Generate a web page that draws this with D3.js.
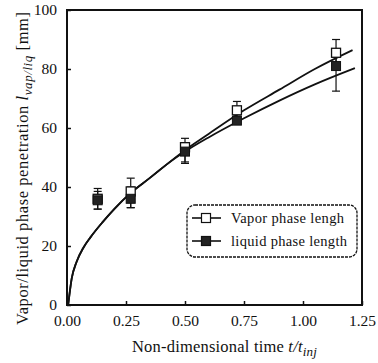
<!DOCTYPE html>
<html><head><meta charset="utf-8">
<script src="https://cdn.jsdelivr.net/npm/d3@7"></script>
<style>body{margin:0;background:#fff}svg{display:block}text{font-family:"Liberation Serif","DejaVu Serif",serif;fill:#111}</style>
</head><body><svg id="c" width="378" height="363"></svg>
<script>
// measured points
const timePts = [0.13, 0.27, 0.50, 0.72, 1.14];
const vaporVals = [36, 38.5, 53.5, 66, 85.5];
const vaporErrLo = [32.5, 33, 48.5, 63, 81];
const vaporErrHi = [39.5, 43, 56.5, 69, 90];
const liquidVals = [35.5, 36, 52, 62.5, 81];
const liquidErrLo = [32.5, 33, 48, 61.5, 72.5];
const liquidErrHi = [38.5, 40, 55, 64, 84];
// fitted curves
const fitT_v = [0.005, 0.02, 0.04, 0.07, 0.10, 0.15, 0.20, 0.27, 0.35, 0.42, 0.50, 0.60, 0.75, 0.90, 1.05, 1.21];
const fitVapor = [0, 9, 14.5, 19.5, 23, 28, 32.5, 38, 43, 47.5, 52.5, 58, 66, 73, 80, 86.4];
const fitT_l = [0.005, 0.02, 0.04, 0.07, 0.10, 0.15, 0.20, 0.27, 0.35, 0.42, 0.50, 0.60, 0.75, 0.90, 1.05, 1.22];
const fitLiquid = [0, 9, 14.5, 19.5, 23, 28, 32.5, 38, 43, 47.5, 52, 56.8, 63.3, 69.3, 74.8, 80.3];
const xTicks = [0, 0.25, 0.5, 0.75, 1.0, 1.25];
const xTickLabels = ["0.00", "0.25", "0.50", "0.75", "1.00", "1.25"];
const yTicks = [0, 20, 40, 60, 80, 100];
const legendLabels = ["Vapor phase lengh", "liquid phase length"];

const svg = d3.select("#c");
const L = 67, R = 362, T = 10, B = 305;
const x = d3.scaleLinear().domain([0, 1.25]).range([L, R]);
const y = d3.scaleLinear().domain([0, 100]).range([B, T]);
const ink = "#111";

// frame
svg.append("rect").attr("x", L).attr("y", T).attr("width", R - L).attr("height", B - T)
  .attr("fill", "none").attr("stroke", ink).attr("stroke-width", 2);

// axes (inward ticks)
const xa = svg.append("g").attr("transform", `translate(0,${B})`)
  .call(d3.axisBottom(x).tickValues(xTicks).tickSize(-4).tickPadding(9)
    .tickFormat((d, i) => xTickLabels[i]));
const ya = svg.append("g").attr("transform", `translate(${L},0)`)
  .call(d3.axisLeft(y).tickValues(yTicks).tickSize(-4).tickPadding(10));
[xa, ya].forEach(g => {
  g.select(".domain").remove();
  g.selectAll("line").attr("stroke", ink).attr("stroke-width", 1.5);
  g.selectAll("text").attr("font-size", 15.5).attr("font-family", "Liberation Serif, serif").attr("fill", ink);
});
xa.selectAll("text").attr("dy", "0.8em");

// curves
const line = d3.line().curve(d3.curveMonotoneX);
svg.append("path").attr("d", line(fitT_v.map((t, i) => [x(t), y(fitVapor[i])])))
  .attr("fill", "none").attr("stroke", ink).attr("stroke-width", 1.8);
svg.append("path").attr("d", line(fitT_l.map((t, i) => [x(t), y(fitLiquid[i])])))
  .attr("fill", "none").attr("stroke", ink).attr("stroke-width", 1.8);

// error bars
function errBars(lo, hi) {
  timePts.forEach((t, i) => {
    const g = svg.append("g").attr("stroke", ink).attr("stroke-width", 1.2);
    g.append("line").attr("x1", x(t)).attr("x2", x(t)).attr("y1", y(lo[i])).attr("y2", y(hi[i]));
    [lo[i], hi[i]].forEach(v => g.append("line").attr("x1", x(t) - 4).attr("x2", x(t) + 4).attr("y1", y(v)).attr("y2", y(v)));
  });
}
errBars(vaporErrLo, vaporErrHi);
errBars(liquidErrLo, liquidErrHi);

// markers
const s = 9;
svg.selectAll(".vm").data(timePts).join("rect")
  .attr("x", (d, i) => x(d) - s / 2).attr("y", (d, i) => y(vaporVals[i]) - s / 2)
  .attr("width", s).attr("height", s).attr("fill", "#fff").attr("stroke", ink).attr("stroke-width", 1.3);
svg.selectAll(".lm").data(timePts).join("rect")
  .attr("x", (d, i) => x(d) - s / 2).attr("y", (d, i) => y(liquidVals[i]) - s / 2)
  .attr("width", s).attr("height", s).attr("fill", "#222").attr("stroke", ink).attr("stroke-width", 1);

// legend
const lg = svg.append("g");
lg.append("rect").attr("x", 187).attr("y", 205).attr("width", 170).attr("height", 52).attr("rx", 8)
  .attr("fill", "#fff").attr("stroke", ink).attr("stroke-width", 1.3).attr("stroke-dasharray", "3,1");
legendLabels.forEach((lab, i) => {
  const yy = 218 + i * 23;
  lg.append("line").attr("x1", 192).attr("x2", 221).attr("y1", yy).attr("y2", yy).attr("stroke", ink).attr("stroke-width", 1.6);
  lg.append("rect").attr("x", 206 - s / 2).attr("y", yy - s / 2).attr("width", s).attr("height", s)
    .attr("fill", i === 0 ? "#fff" : "#222").attr("stroke", ink).attr("stroke-width", 1.2);
  lg.append("text").attr("x", 231).attr("y", yy).attr("dy", "0.33em").attr("font-size", 14.5)
    .attr("textLength", i === 0 ? 113 : 116).attr("lengthAdjust", "spacing").text(lab);
});

// axis titles
const xt = svg.append("text").attr("x", 132).attr("y", 352).attr("font-size", 16.5).attr("letter-spacing", 0.2);
xt.append("tspan").text("Non-dimensional time ");
xt.append("tspan").attr("font-style", "italic").text("t/t");
xt.append("tspan").attr("font-style", "italic").attr("font-size", 13).attr("dy", 4).text("inj");

const yt = svg.append("text").attr("transform", "translate(28,325) rotate(-90)").attr("font-size", 16.5)
  .attr("textLength", 313).attr("lengthAdjust", "spacing");
yt.append("tspan").text("Vapor/liquid  phase penetration ");
yt.append("tspan").attr("font-style", "italic").text("l");
yt.append("tspan").attr("font-style", "italic").attr("font-size", 13).attr("dy", 4).text("vap/liq");
yt.append("tspan").attr("dy", -4).text(" [mm]");
</script></body></html>
